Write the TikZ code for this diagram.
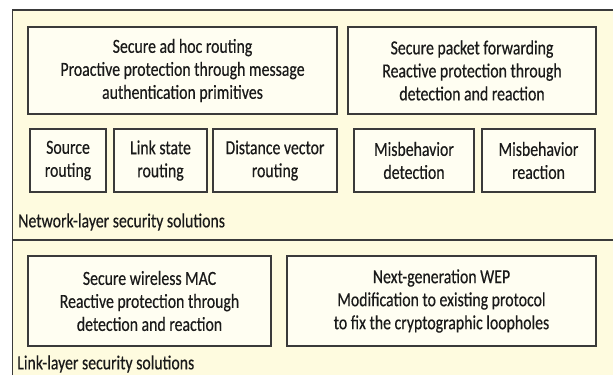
\documentclass[tikz,border=0pt]{standalone}
\usepackage{fontspec}
\setmainfont{Carlito}[FakeStretch=0.79, FakeBold=0.4]
\definecolor{panel}{HTML}{FEFBDF}
\definecolor{boxfill}{HTML}{FFFEF2}
\definecolor{edge}{HTML}{3A3A3A}
\definecolor{ink}{HTML}{1A1A1A}
\begin{document}
\begin{tikzpicture}[x=0.75pt,y=-0.75pt,
  every node/.style={font=\fontsize{15}{17.25}\selectfont, text=ink, align=center},
  blockbox/.style={draw=edge, fill=boxfill, line width=1.1pt, inner sep=0pt},
  bw/.style={minimum width=#1*0.75pt},
  bh/.style={minimum height=#1*0.75pt},
  layerlabel/.style={anchor=west, inner sep=0pt}]
\useasboundingbox (0,0) rectangle (613,375);
\fill[white] (0,0) rectangle (613,375);
% outer panel, open to the right and bottom
\fill[panel] (12.5,10) rectangle (613,375);
\draw[edge, line width=1.2pt] (12.5,375) -- (12.5,10) -- (613,10);
\draw[edge, line width=1.4pt] (12.5,240) -- (613,240);

% network layer
\node[blockbox, bw=309, bh=87] (adhoc) at (182.5,70.5)
  {Secure ad hoc routing\\Proactive protection through message\\authentication primitives};
\node[blockbox, bw=248, bh=87] (fwd) at (472,70.5)
  {Secure packet forwarding\\Reactive protection through\\detection and reaction};
\node[blockbox, bw=76, bh=63] (src) at (68,160.5) {Source\\routing};
\node[blockbox, bw=93, bh=63] (link) at (160.5,160.5) {Link state\\routing};
\node[blockbox, bw=124, bh=63] (dv) at (275,160.5) {Distance vector\\routing};
\node[blockbox, bw=120, bh=63] (mdet) at (414,160.5) {Misbehavior\\detection};
\node[blockbox, bw=113, bh=63] (mreact) at (538.5,160.5) {Misbehavior\\reaction};
\node[layerlabel] (netlbl) at (18,222) {Network-layer security solutions};

% link layer
\node[blockbox, bw=243, bh=90] (mac) at (149.5,301)
  {Secure wireless MAC\\Reactive protection through\\detection and reaction};
\node[blockbox, bw=309, bh=90] (wep) at (441.5,301)
  {Next-generation WEP\\Modification to existing protocol\\to fix the cryptographic loopholes};
\node[layerlabel] (linklbl) at (17,364) {Link-layer security solutions};
\end{tikzpicture}
\end{document}
